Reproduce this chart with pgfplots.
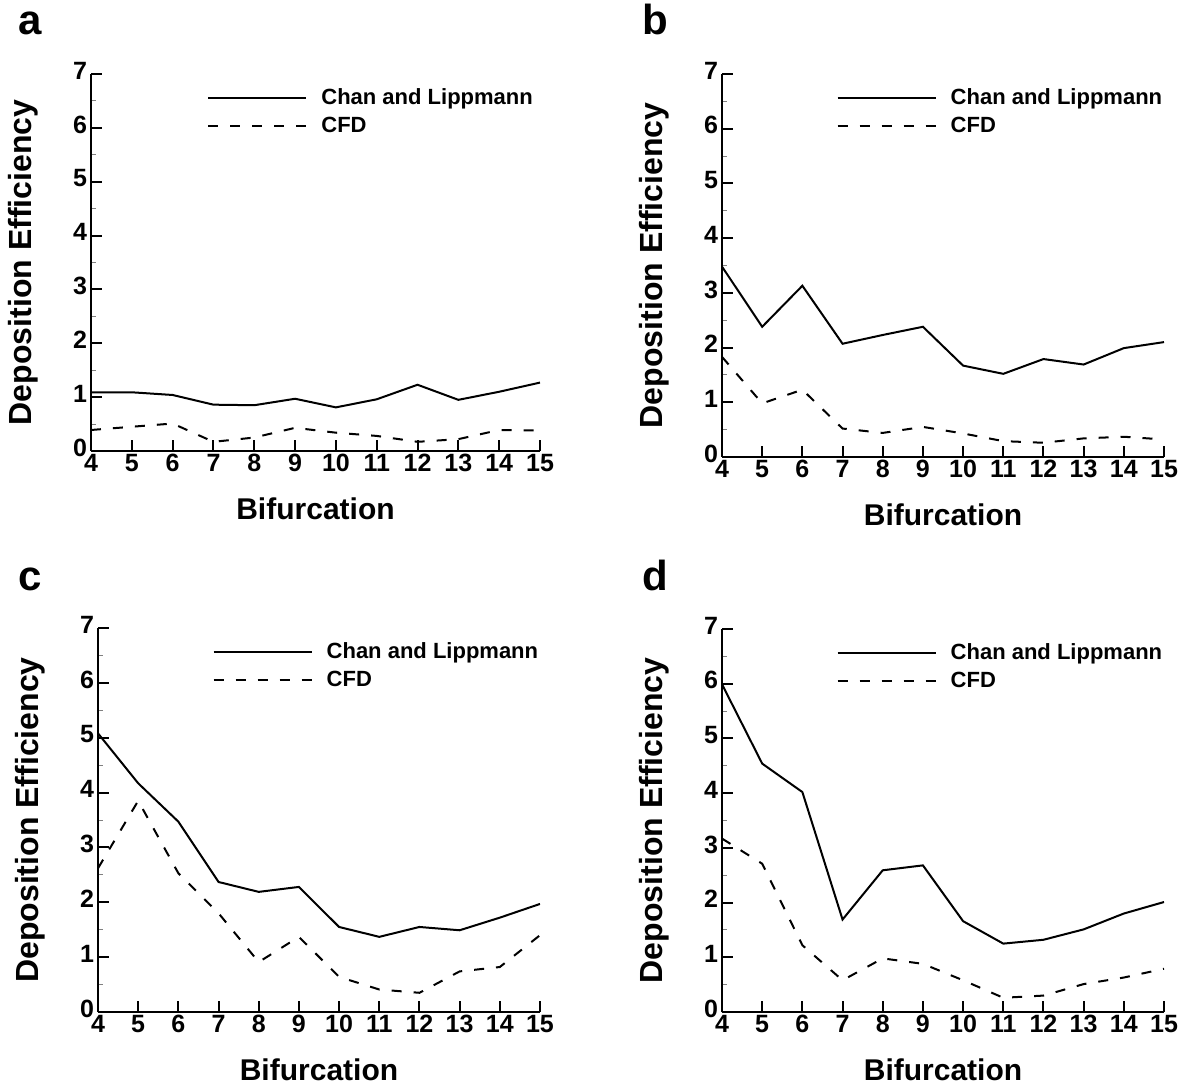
\documentclass[border=0pt]{standalone}
\usepackage{fontspec}
\setmainfont{Liberation Sans}
\usepackage{pgfplots}
\pgfplotsset{compat=1.18}

\newcommand{\tickfont}{\fontsize{12.5}{13}\selectfont\bfseries}
\newcommand{\legfont}{\fontsize{11}{12}\selectfont\bfseries}
\newcommand{\labfont}{\fontsize{15}{17}\selectfont\bfseries}
\newcommand{\ylabfont}{\fontsize{16}{18}\selectfont\bfseries}
\newcommand{\letfont}{\fontsize{21}{23}\selectfont\bfseries}

\pgfplotsset{
  panel/.style={
    scale only axis,
    axis lines=left,
    axis line style={-, line width=1pt},
    xmin=4, xmax=15, ymin=0, ymax=7,
    xtick={4,...,15}, ytick={0,...,7},
    minor y tick num=1,
    tick align=inside,
    major tick length=5.5pt,
    minor tick length=2.5pt,
    major tick style={black, line width=1pt},
    minor tick style={gray, line width=0.5pt},
    tick label style={font=\tickfont},
    /pgf/number format/assume math mode=true,
    typeset ticklabels with strut,
    xticklabel style={yshift=2.5pt},
    yticklabel style={xshift=1.5pt},
    every axis x label/.style={at={([yshift=-29pt]axis description cs:0.5,0)}, anchor=center, font=\labfont},
    every axis y label/.style={at={([xshift=-34pt]axis description cs:0,0.5)}, anchor=center, rotate=90, font=\ylabfont},
    xlabel={Bifurcation},
    ylabel={Deposition Efficiency},
    legend style={at={(axis description cs:0.245,0.985)}, anchor=north west, draw=none, fill=none,
      font=\legfont, row sep=1pt, nodes={inner sep=2pt},
      /tikz/every odd column/.append style={column sep=5pt}},
    legend cell align=left,
    legend image code/.code={\draw[#1] (0pt,0pt) -- (49pt,0pt);},
  },
  cl/.style={black, line width=1pt},
  cfd/.style={black, line width=1pt, dash pattern=on 5pt off 6pt},
}

\begin{document}
\begin{tikzpicture}
\useasboundingbox (0,0) rectangle (591.5pt,543.5pt);

% panel a
\begin{axis}[panel, width=224.5pt, height=188.5pt, at={(45.5pt,318pt)}, anchor=south west]
\addplot[cl] coordinates {(4,1.09) (5,1.09) (6,1.04) (7,0.86) (8,0.85) (9,0.97) (10,0.81) (11,0.96) (12,1.23) (13,0.95) (14,1.10) (15,1.27)};
\addplot[cfd] coordinates {(4,0.39) (5,0.45) (6,0.51) (7,0.17) (8,0.25) (9,0.43) (10,0.34) (11,0.28) (12,0.17) (13,0.22) (14,0.39) (15,0.38)};
\legend{Chan and Lippmann, CFD}
\end{axis}

% panel b
\begin{axis}[panel, width=221pt, height=191.5pt, at={(361pt,315pt)}, anchor=south west]
\addplot[cl] coordinates {(4,3.48) (5,2.38) (6,3.13) (7,2.07) (8,2.23) (9,2.38) (10,1.67) (11,1.52) (12,1.79) (13,1.69) (14,1.99) (15,2.10)};
\addplot[cfd] coordinates {(4,1.83) (5,0.98) (6,1.23) (7,0.52) (8,0.44) (9,0.55) (10,0.43) (11,0.29) (12,0.26) (13,0.34) (14,0.37) (15,0.32)};
\legend{Chan and Lippmann, CFD}
\end{axis}

% panel c
\begin{axis}[panel, width=221pt, height=192pt, at={(49pt,37.5pt)}, anchor=south west]
\addplot[cl] coordinates {(4,5.08) (5,4.17) (6,3.47) (7,2.37) (8,2.19) (9,2.28) (10,1.55) (11,1.37) (12,1.55) (13,1.49) (14,1.72) (15,1.97)};
\addplot[cfd] coordinates {(4,2.62) (5,3.85) (6,2.53) (7,1.80) (8,0.91) (9,1.37) (10,0.64) (11,0.41) (12,0.35) (13,0.74) (14,0.82) (15,1.40)};
\legend{Chan and Lippmann, CFD}
\end{axis}

% panel d
\begin{axis}[panel, width=221pt, height=191.5pt, at={(361pt,37.5pt)}, anchor=south west]
\addplot[cl] coordinates {(4,5.99) (5,4.54) (6,4.02) (7,1.69) (8,2.59) (9,2.68) (10,1.66) (11,1.25) (12,1.32) (13,1.51) (14,1.80) (15,2.01)};
\addplot[cfd] coordinates {(4,3.17) (5,2.71) (6,1.22) (7,0.58) (8,0.98) (9,0.88) (10,0.58) (11,0.26) (12,0.30) (13,0.51) (14,0.63) (15,0.79)};
\legend{Chan and Lippmann, CFD}
\end{axis}

\node[font=\letfont, anchor=base] at (15pt,526pt) {a};
\node[font=\letfont, anchor=base] at (327.5pt,526pt) {b};
\node[font=\letfont, anchor=base] at (15pt,248pt) {c};
\node[font=\letfont, anchor=base] at (327.5pt,248pt) {d};
\end{tikzpicture}
\end{document}
